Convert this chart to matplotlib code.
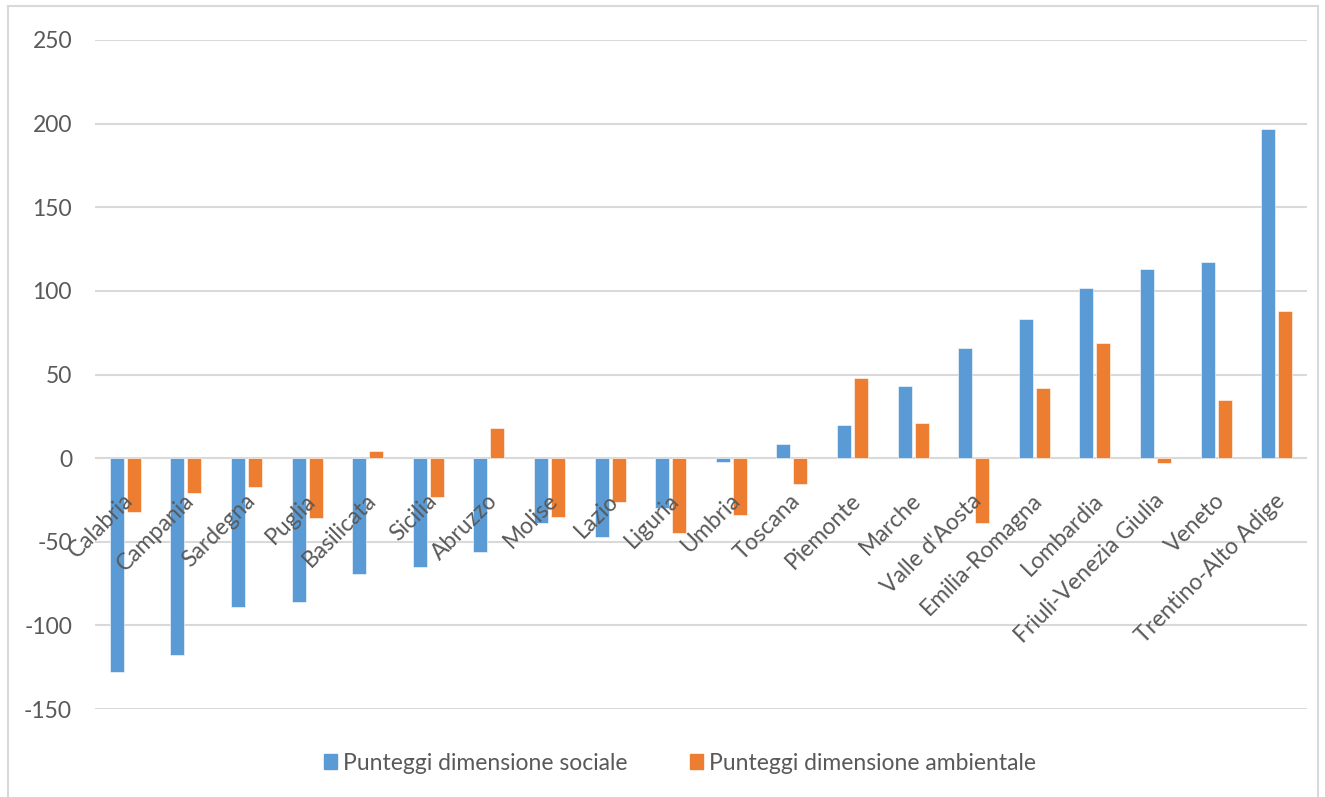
import numpy as np
import matplotlib.pyplot as plt
from matplotlib.lines import Line2D
from matplotlib.patches import Patch

regioni = ["Calabria", "Campania", "Sardegna", "Puglia", "Basilicata", "Sicilia",
           "Abruzzo", "Molise", "Lazio", "Liguria", "Umbria", "Toscana",
           "Piemonte", "Marche", "Valle d'Aosta", "Emilia-Romagna", "Lombardia",
           "Friuli-Venezia Giulia", "Veneto", "Trentino-Alto Adige"]
sociale = [-128, -118, -89, -86, -69.5, -65, -56, -39, -47, -30, -2.5, 8.5,
           20, 43, 66, 83, 102, 113, 117, 197]
ambientale = [-32, -21, -17, -36, 4, -23, 18, -35, -26, -45, -34, -15.5,
              48, 21, -39, 42, 69, -3, 35, 88]
yticks = [-150, -100, -50, 0, 50, 100, 150, 200, 250]

blu = "#5B9BD5"
arancio = "#ED7D31"
grigio = "#595959"
plt.rcParams["font.family"] = ["Lato", "DejaVu Sans"]
fs = 16.5

W, H = 1325, 797
fig = plt.figure(figsize=(W / 100, H / 100), dpi=100)
ax = fig.add_axes([95 / W, 1 - 709 / H, (1307 - 95) / W, (709 - 40) / H])

x = np.arange(len(regioni))
w = 0.23
ax.bar(x - 0.14, sociale, w, color=blu, edgecolor="white", linewidth=0.4, zorder=3)
ax.bar(x + 0.14, ambientale, w, color=arancio, edgecolor="white", linewidth=0.4, zorder=3)

ax.set_xlim(-0.5, len(regioni) - 0.5)
ax.set_ylim(-150, 250)
ax.set_yticks(yticks)
ax.set_yticklabels([str(v) for v in yticks], color=grigio, fontsize=fs)
ax.tick_params(axis="y", length=0, pad=16.5)
ax.set_xticks([])
ax.yaxis.grid(True, color="#d9d9d9", linewidth=1.5, zorder=0)
ax.set_axisbelow(True)
for s in ax.spines.values():
    s.set_visible(False)

# category names sit along the zero line, slanted
for i, nome in enumerate(regioni):
    ax.text(i - 0.04, -19, nome, rotation=45, ha="right", va="top",
            rotation_mode="anchor", color=grigio, fontsize=fs, zorder=4)

handles = [Patch(color=blu), Patch(color=arancio)]
fig.legend(handles, ["Punteggi dimensione sociale", "Punteggi dimensione ambientale"],
           loc="center", bbox_to_anchor=(680 / W, 1 - 763 / H), ncol=2,
           frameon=False, fontsize=fs, labelcolor=grigio, handlelength=0.6,
           handleheight=0.6, handletextpad=0.26, columnspacing=2.7)

# light frame around the chart area
bordo = "#d9d9d9"
fig.add_artist(Line2D([8 / W, 8 / W], [0, 1 - 6 / H], color=bordo, lw=1.5))
fig.add_artist(Line2D([8 / W, 1318 / W], [1 - 6 / H, 1 - 6 / H], color=bordo, lw=1.5))
fig.add_artist(Line2D([1318 / W, 1318 / W], [0, 1 - 6 / H], color=bordo, lw=1.5))

fig.savefig("out.png", dpi=100, facecolor="white")
